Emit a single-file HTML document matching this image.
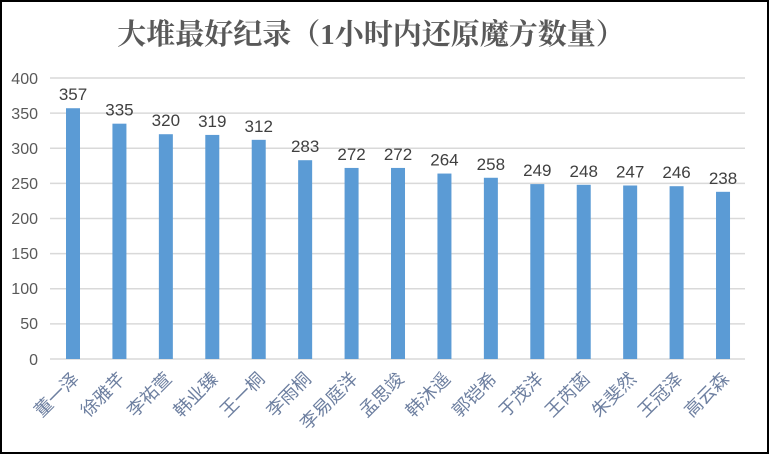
<!DOCTYPE html><html><head><meta charset="utf-8"><style>
body{margin:0;width:769px;height:454px;overflow:hidden;background:#fff}
svg{display:block}
</style></head><body>
<svg width="769" height="454" xmlns="http://www.w3.org/2000/svg">
<rect x="1" y="1" width="767" height="452" fill="#fff" stroke="#000" stroke-width="2"/>
<text x="371" y="44" text-anchor="middle" font-family="'Liberation Serif','Noto Serif CJK SC',serif" font-size="29" fill="#595959" font-weight="bold">大堆最好纪录（1小时内还原魔方数量）</text>
<g stroke="#d9d9d9" stroke-width="1.5">
<line x1="50" x2="745" y1="78" y2="78"/><line x1="50" x2="745" y1="113.1" y2="113.1"/><line x1="50" x2="745" y1="148.3" y2="148.3"/><line x1="50" x2="745" y1="183.4" y2="183.4"/><line x1="50" x2="745" y1="218.5" y2="218.5"/><line x1="50" x2="745" y1="253.6" y2="253.6"/><line x1="50" x2="745" y1="288.8" y2="288.8"/><line x1="50" x2="745" y1="323.9" y2="323.9"/><line x1="50" x2="745" y1="359" y2="359"/>
</g>
<g font-family="'Liberation Sans','Noto Sans CJK SC',sans-serif" font-size="16" fill="#595959" text-anchor="end">
<text x="38" y="84">400</text><text x="38" y="119">350</text><text x="38" y="154">300</text><text x="38" y="189">250</text><text x="38" y="224">200</text><text x="38" y="259">150</text><text x="38" y="294">100</text><text x="38" y="329">50</text><text x="38" y="365">0</text>
</g>
<g id="bars"></g>
<g id="lbl" font-family="'Liberation Sans','Noto Sans CJK SC',sans-serif" font-size="17" fill="#404040" text-anchor="middle"></g>
<g id="xl" font-family="'Liberation Sans','Noto Sans CJK SC',sans-serif" font-size="18" fill="#6d7fa0" text-anchor="end"></g>
<script>
var v=[357,335,320,319,312,283,272,272,264,258,249,248,247,246,238];
var n=["董一泽","徐雅芊","李祐萱","韩业臻","王一桐","李雨桐","李易庭洋","孟思竣","韩沐遥","郭铠希","于茂洋","王芮菡","朱斐然","王冠泽","高云森"];
var b=document.getElementById('bars'),l=document.getElementById('lbl'),x=document.getElementById('xl'),ns="http://www.w3.org/2000/svg";
v.forEach(function(d,i){var cx=73+i*46.43,h=d*0.70245,y=359-h;
var r=document.createElementNS(ns,'rect');r.setAttribute('x',cx-7);r.setAttribute('y',y);r.setAttribute('width',14);r.setAttribute('height',h);r.setAttribute('fill','#5b9bd5');b.appendChild(r);
var t=document.createElementNS(ns,'text');t.setAttribute('x',cx);t.setAttribute('y',y-8);t.textContent=d;l.appendChild(t);
var s=document.createElementNS(ns,'text');s.setAttribute('transform','translate('+(cx+7)+',380) rotate(-45)');s.textContent=n[i];x.appendChild(s);});
</script>
</svg>
</body></html>
